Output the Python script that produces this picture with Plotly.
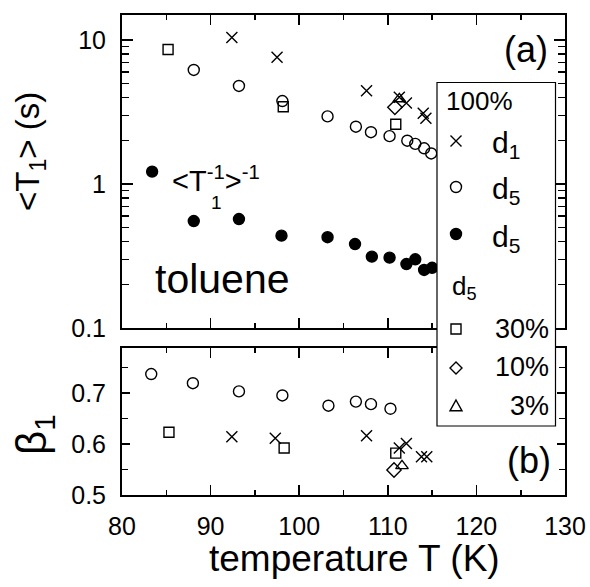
import plotly.graph_objects as go

# ---------------- data ----------------
# top panel (a): <T1> (s) vs temperature
T_d1_100 = [92.4, 97.5, 107.6, 111.3, 112.1, 114.0, 114.3]
T1_d1_100 = [10.4, 7.6, 4.45, 4.0, 3.65, 3.1, 2.86]

T_d5_100 = [88.1, 93.2, 98.1, 103.2, 106.4, 108.1, 110.2, 112.2, 113.1, 114.1, 114.9]
T1_d5_100 = [6.2, 4.8, 3.77, 2.95, 2.5, 2.29, 2.15, 2.0, 1.9, 1.77, 1.63]

T_d5_inv = [83.4, 88.1, 93.2, 98.0, 103.2, 106.3, 108.2, 110.2, 112.1, 113.1, 114.1, 115.0]
T1_d5_inv = [1.22, 0.553, 0.571, 0.438, 0.427, 0.383, 0.313, 0.308, 0.278, 0.30, 0.253, 0.262]

T_d5_30 = [85.2, 98.2, 110.9]
T1_d5_30 = [8.6, 3.44, 2.6]
T_d5_10 = [110.8]
T1_d5_10 = [3.41]
T_d5_3 = [111.3]
T1_d5_3 = [3.9]

# bottom panel (b): beta1 vs temperature
Tb_d5_100 = [83.3, 88.0, 93.2, 98.1, 103.3, 106.4, 108.1, 110.3]
b_d5_100 = [0.737, 0.719, 0.703, 0.695, 0.675, 0.683, 0.678, 0.669]
Tb_d1_100 = [92.4, 97.3, 107.6, 111.3, 112.1, 113.8, 114.4]
b_d1_100 = [0.614, 0.611, 0.616, 0.592, 0.601, 0.575, 0.575]
Tb_d5_30 = [85.3, 98.3, 110.9]
b_d5_30 = [0.623, 0.592, 0.582]
Tb_d5_10 = [110.7]
b_d5_10 = [0.549]
Tb_d5_3 = [111.6]
b_d5_3 = [0.557]

x_ticks = [80, 90, 100, 110, 120, 130]
x_minor = [85, 95, 105, 115, 125]
ya_ticks = [0.1, 1, 10]
ya_text = ["0.1", "1", "10"]
ya_minor = [0.2, 0.3, 0.4, 0.5, 0.6, 0.7, 0.8, 0.9, 2, 3, 4, 5, 6, 7, 8, 9]
yb_ticks = [0.5, 0.6, 0.7]
yb_minor = [0.55, 0.65, 0.75]

# ---------------- geometry ----------------
W, H = 590, 587
FONT = "Liberation Sans, Arial, Helvetica, sans-serif"


def px(x):
    return x / W


def py(y):
    return 1 - y / H


X0, X1 = 122, 565
TOP0, TOP1 = 15, 328
BOT0, BOT1 = 348, 495

fig = go.Figure()

LW = 1.4


def add(x, y, sym, size, xa, ya):
    fig.add_trace(go.Scatter(
        x=x, y=y, mode="markers", xaxis=xa, yaxis=ya, showlegend=False,
        cliponaxis=False,
        marker=dict(symbol=sym, size=size, color="black",
                    line=dict(color="black", width=LW)),
    ))


# top panel
add(T_d5_100, T1_d5_100, "circle-open", 11, "x", "y")
add(T_d5_inv, T1_d5_inv, "circle", 11, "x", "y")
add(T_d5_30, T1_d5_30, "square-open", 10, "x", "y")
add(T_d5_10, T1_d5_10, "diamond-open", 11, "x", "y")
add(T_d5_3, T1_d5_3, "triangle-up-open", 11, "x", "y")
add(T_d1_100, T1_d1_100, "x-thin-open", 11, "x", "y")
# bottom panel
add(Tb_d5_100, b_d5_100, "circle-open", 11, "x2", "y2")
add(Tb_d5_30, b_d5_30, "square-open", 10, "x2", "y2")
add(Tb_d5_10, b_d5_10, "diamond-open", 11, "x2", "y2")
add(Tb_d5_3, b_d5_3, "triangle-up-open", 11, "x2", "y2")
add(Tb_d1_100, b_d1_100, "x-thin-open", 11, "x2", "y2")

axis_common = dict(
    showline=True, linecolor="black", linewidth=2, mirror="ticks",
    ticks="inside", tickcolor="black", tickwidth=1.6,
    showgrid=False, zeroline=False, automargin=False,
    tickfont=dict(family=FONT, size=25, color="black"),
)

fig.update_layout(
    width=W, height=H, autosize=False,
    margin=dict(l=0, r=0, t=0, b=0, pad=0, autoexpand=False),
    paper_bgcolor="white", plot_bgcolor="white",
    showlegend=False,
    xaxis=dict(domain=[px(X0), px(X1)], anchor="y", range=[80, 130],
               tickvals=x_ticks, ticklen=10, showticklabels=False,
               minor=dict(tickvals=x_minor, ticklen=5, ticks="inside",
                          tickcolor="black", tickwidth=1.6),
               **axis_common),
    yaxis=dict(domain=[py(TOP1), py(TOP0)], anchor="x", type="log",
               range=[-1, 1.174], tickvals=ya_ticks, ticktext=ya_text,
               ticklen=11, ticklabelstandoff=9,
               minor=dict(tickvals=ya_minor, ticklen=7, ticks="inside",
                          tickcolor="black", tickwidth=1.6),
               **axis_common),
    xaxis2=dict(domain=[px(X0), px(X1)], anchor="y2", range=[80, 130],
                tickvals=x_ticks, ticklen=10, ticklabelstandoff=8,
                minor=dict(tickvals=x_minor, ticklen=5, ticks="inside",
                           tickcolor="black", tickwidth=1.6),
                **axis_common),
    yaxis2=dict(domain=[py(BOT1), py(BOT0)], anchor="x2",
                range=[0.5, 0.788], tickvals=yb_ticks, ticklen=8,
                ticklabelstandoff=9,
                minor=dict(tickvals=yb_minor, ticklen=6, ticks="inside",
                           tickcolor="black", tickwidth=1.6),
                **axis_common),
)

# ---------------- legend box (drawn with shapes) ----------------
shapes = []
LX0, LX1, LY0, LY1 = 437, 555.5, 82.5, 426
shapes.append(dict(type="rect", xref="paper", yref="paper",
                   x0=px(LX0), x1=px(LX1), y0=py(LY1), y1=py(LY0),
                   fillcolor="white", line=dict(color="black", width=1.2),
                   layer="above"))

SX = 456
r = 5.5
lw = 1.4
# × d1
cy = 141
shapes.append(dict(type="path", xref="paper", yref="paper", layer="above",
                   path=f"M {px(SX-5.5)} {py(cy-5.5)} L {px(SX+5.5)} {py(cy+5.5)} "
                        f"M {px(SX-5.5)} {py(cy+5.5)} L {px(SX+5.5)} {py(cy-5.5)}",
                   line=dict(color="black", width=lw)))
# ○ d5
cy = 187
shapes.append(dict(type="circle", xref="paper", yref="paper", layer="above",
                   x0=px(SX-r), x1=px(SX+r), y0=py(cy+r), y1=py(cy-r),
                   line=dict(color="black", width=lw)))
# ● d5
cy = 234
shapes.append(dict(type="circle", xref="paper", yref="paper", layer="above",
                   x0=px(SX-r), x1=px(SX+r), y0=py(cy+r), y1=py(cy-r),
                   fillcolor="black", line=dict(color="black", width=lw)))
# □ 30%
cy = 329
s = 5
shapes.append(dict(type="rect", xref="paper", yref="paper", layer="above",
                   x0=px(SX-s), x1=px(SX+s), y0=py(cy+s), y1=py(cy-s),
                   line=dict(color="black", width=lw)))
# ◇ 10%
cy = 368
d = 6
shapes.append(dict(type="path", xref="paper", yref="paper", layer="above",
                   path=f"M {px(SX)} {py(cy-d)} L {px(SX+d)} {py(cy)} L {px(SX)} {py(cy+d)} "
                        f"L {px(SX-d)} {py(cy)} Z",
                   line=dict(color="black", width=lw)))
# △ 3%
cy = 406
t = 6
shapes.append(dict(type="path", xref="paper", yref="paper", layer="above",
                   path=f"M {px(SX)} {py(cy-t)} L {px(SX+t)} {py(cy+t*0.8)} "
                        f"L {px(SX-t)} {py(cy+t*0.8)} Z",
                   line=dict(color="black", width=lw)))
fig.update_layout(shapes=shapes)

# ---------------- text ----------------
ann = []


def text(x, y, s, size, xanchor="center", yanchor="middle", angle=0):
    ann.append(dict(xref="paper", yref="paper", x=px(x), y=py(y), text=s,
                    showarrow=False, xanchor=xanchor, yanchor=yanchor,
                    textangle=angle, borderpad=0,
                    font=dict(family=FONT, size=size, color="black")))


# axis titles
text(30, 152, "&lt;T<sub>1</sub>&gt; (s)", 33, angle=-90)
text(34, 435, "β<sub>1</sub>", 42, angle=-90)
text(355, 558, "temperature T (K)", 37)
# panel labels
text(526, 50, "(a)", 36)
text(529, 460, "(b)", 36)
text(222, 279, "toluene", 41)
text(171, 179, "&lt;T<sup>-1</sup>&gt;<sup>-1</sup>", 29, xanchor="left")
text(216, 203, "1", 19)
# legend text
text(445, 101, "100%", 26, xanchor="left")
text(491, 145, "d<sub>1</sub>", 30, xanchor="left")
text(491, 191, "d<sub>5</sub>", 30, xanchor="left")
text(491, 238, "d<sub>5</sub>", 30, xanchor="left")
text(451, 287, "d<sub>5</sub>", 26, xanchor="left")
text(550, 329, "30%", 27, xanchor="right")
text(550, 367, "10%", 27, xanchor="right")
text(550, 406, "3%", 27, xanchor="right")
fig.update_layout(annotations=ann)

fig.write_html("out.html",
               config={"displayModeBar": False, "staticPlot": True},
               post_script="document.body.style.margin='0px';"
                           "document.body.style.overflow='hidden';")
